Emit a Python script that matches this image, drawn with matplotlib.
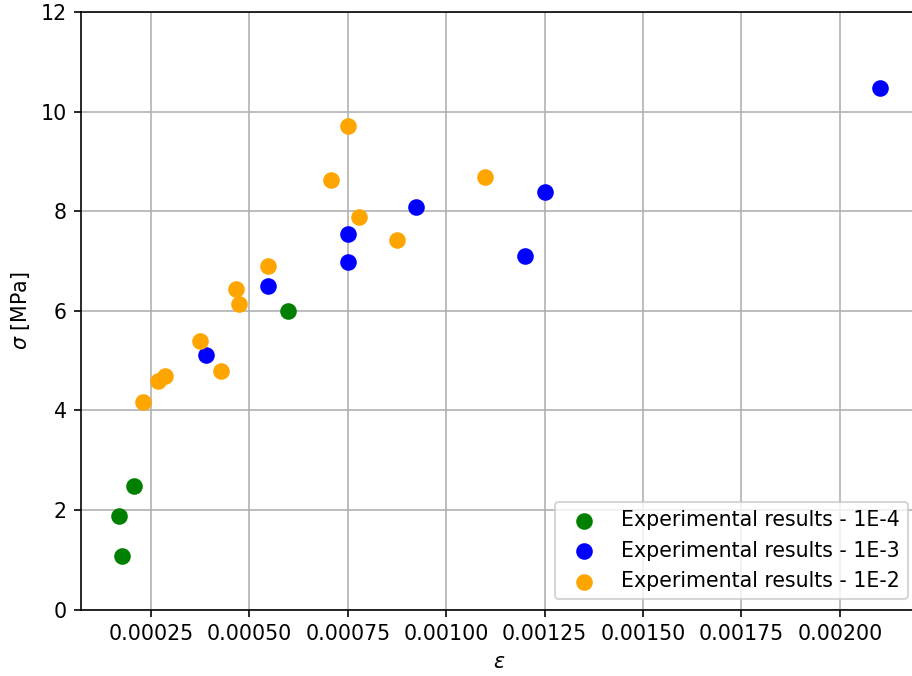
import numpy as np
import matplotlib
matplotlib.use("Agg")
import matplotlib.pyplot as plt

############### DATA ###################
# strain / stress pairs for the three strain rates

eps_1e4 = [0.000169, 0.000176, 0.000207, 0.000597]
sig_1e4 = [1.88, 1.08, 2.48, 6.0]

eps_1e3 = [0.000389, 0.000548, 0.00075, 0.00075, 0.000924, 0.0012, 0.00125, 0.002102]
sig_1e3 = [5.12, 6.5, 7.55, 6.98, 8.09, 7.10, 8.39, 10.48]

eps_1e2 = [0.000230, 0.000268, 0.000285, 0.000374, 0.000427, 0.000465, 0.000473,
           0.000547, 0.000707, 0.00075, 0.000779, 0.000874, 0.001098]
sig_1e2 = [4.16, 4.59, 4.68, 5.39, 4.79, 6.44, 6.14,
           6.89, 8.63, 9.71, 7.88, 7.43, 8.69]

labels = ["Experimental results - 1E-4",
          "Experimental results - 1E-3",
          "Experimental results - 1E-2"]

############### PLOT ###################

dpi = 148
fig = plt.figure(figsize=(912 / dpi, 676 / dpi), dpi=dpi)
ax = fig.add_axes([81 / 912, (676 - 609.5) / 676, (918 - 81) / 912, (609.5 - 12) / 676])

ax.scatter(eps_1e4, sig_1e4, color="green", s=50, label=labels[0])
ax.scatter(eps_1e3, sig_1e3, color="blue", s=50, label=labels[1])
ax.scatter(eps_1e2, sig_1e2, color="orange", s=50, label=labels[2])

ax.set_ylim(0, 12)
ax.set_xlabel(r"$\varepsilon$")
ax.set_ylabel(r"$\sigma$ [MPa]")
ax.grid(True)
ax.set_axisbelow(True)
ax.legend(loc="lower right")

fig.savefig("out.png", dpi=dpi)
